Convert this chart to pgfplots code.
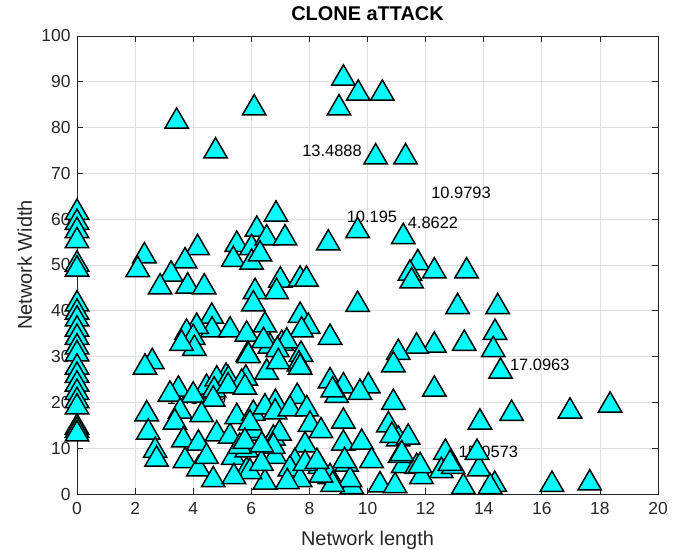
\documentclass[border=0pt]{standalone}
\usepackage{fontspec}
\setmainfont{Liberation Sans}
\usepackage{pgfplots}
\pgfplotsset{compat=1.18}
\usepackage{pgfplotstable}
\definecolor{axgray}{RGB}{38,38,38}
\definecolor{gridgray}{RGB}{223,223,223}
\definecolor{mcyan}{RGB}{0,255,255}
\pgfplotstableread{
x y
0 62.2
0 60.0
0 58.2
0 56.0
0 50.9
0 49.8
0 42.2
0 40.4
0 38.9
0 36.7
0 34.9
0 32.8
0 31.3
0 28.4
0 26.6
0 24.7
0 22.9
0 21.1
0 19.7
0 15.3
0 14.6
0 13.8
3.43 82.1
4.77 75.6
6.10 85.0
9.17 91.5
9.68 88.2
10.51 88.2
9.02 85.0
10.28 74.3
11.31 74.3
2.32 52.7
2.09 49.7
4.15 54.5
3.72 51.6
3.24 48.7
2.86 45.9
3.81 46.1
4.38 45.9
5.50 55.2
6.19 58.5
6.85 61.8
6.01 54.5
6.53 56.6
7.16 56.6
5.38 51.9
6.01 51.3
6.30 53.1
7.00 47.4
6.13 44.9
6.87 44.9
6.07 42.2
4.64 39.5
4.65 36.5
4.12 37.3
3.77 36.0
5.27 36.5
5.84 35.6
6.47 37.6
4.00 34.9
4.04 32.5
3.60 33.6
7.05 33.6
6.64 33.0
6.42 34.2
8.65 55.5
9.66 58.2
11.23 56.9
11.73 51.2
11.46 48.9
11.52 47.2
12.30 49.4
13.41 49.4
9.66 42.1
13.10 41.6
14.48 41.6
14.39 36.0
14.33 32.2
13.33 33.6
12.30 33.2
11.69 33.0
11.06 31.6
7.68 47.6
7.90 47.6
8.71 34.9
7.68 39.7
7.96 37.3
7.73 36.5
7.22 34.1
14.58 27.5
6.90 32.2
5.88 31.2
7.71 31.2
6.53 27.3
7.64 29.1
2.59 29.6
2.34 28.4
5.13 26.4
5.81 26.0
3.49 23.6
3.20 22.5
4.46 24.0
4.81 25.8
5.21 25.8
5.67 25.1
4.72 23.4
5.20 24.3
4.00 22.3
4.69 21.4
5.90 30.9
6.93 29.6
7.68 28.4
10.89 28.9
5.78 24.0
8.71 25.4
9.17 24.3
10.03 24.3
9.74 22.9
8.94 22.2
10.89 20.7
12.30 23.6
8.80 23.4
7.58 22.0
6.83 20.7
3.55 18.8
4.29 18.0
2.40 18.2
2.45 14.2
3.37 16.4
3.66 12.5
2.69 10.2
2.74 8.3
4.18 11.8
4.81 13.8
5.27 13.3
3.72 8.0
4.18 6.2
4.69 3.8
5.38 8.7
5.84 5.9
4.46 8.9
5.95 14.0
5.50 17.6
6.07 18.3
6.47 19.7
6.82 18.6
7.33 19.3
7.91 19.3
8.02 15.9
9.17 16.6
10.72 15.8
6.07 14.6
6.76 12.9
7.85 11.4
9.17 11.8
9.80 12.0
11.06 12.7
5.84 10.3
6.82 8.9
7.50 7.8
8.36 6.7
9.28 7.2
10.14 8.0
11.23 6.9
6.47 3.3
7.33 6.2
7.68 3.8
8.71 4.5
9.46 2.3
9.40 3.8
10.43 2.7
10.95 2.5
5.95 5.6
11.69 6.7
10.84 13.5
11.40 13.1
11.12 9.1
11.86 4.5
12.68 9.8
12.54 5.8
12.95 6.7
13.84 6.2
13.77 9.8
13.30 2.3
14.38 2.8
14.22 2.3
16.35 2.8
17.65 3.1
8.80 2.8
8.40 4.8
9.21 8.0
7.85 7.4
7.24 3.4
5.95 16.2
6.97 14.0
8.40 14.5
5.60 11.1
6.76 11.1
8.26 7.8
5.40 4.5
6.35 7.4
11.81 6.9
5.78 12.2
6.36 11.4
12.84 7.4
11.18 9.5
13.87 16.4
14.96 18.3
16.97 18.8
18.35 20.1
}\pts
\begin{document}
\begin{tikzpicture}
\begin{axis}[
  set layers=standard,
  scale only axis, width=581bp, height=458bp,
  xmin=0, xmax=20, ymin=0, ymax=100,
  xtick={0,2,...,20}, ytick={0,10,...,100},
  grid=major, grid style={gridgray, line width=0.8bp},
  axis line style={axgray, line width=0.8bp},
  tick style={axgray, line width=0.8bp},
  tick align=inside, major tick length=6bp,
  /pgf/number format/assume math mode=true,
  ticklabel style={font=\fontsize{17.5}{20}\selectfont, text=axgray},
  xticklabel style={yshift=-5bp},
  yticklabel style={xshift=-3bp},
  xlabel={Network length}, ylabel={Network Width},
  label style={font=\fontsize{20}{24}\selectfont, text=axgray},
  xlabel style={at={(axis description cs:0.5,-0.1004)}, anchor=center},
  ylabel style={at={(axis description cs:-0.09,0.5)}, anchor=center},
  title={CLONE aTTACK},
  title style={font=\bfseries\fontsize{20}{24}\selectfont, at={(axis description cs:0.5,1)}, anchor=center, yshift=16bp},
  clip=false,
]
\node[on layer=pre main, anchor=west, inner sep=0pt, font=\fontsize{16.5}{18}\selectfont] at (axis cs:7.75,74.9) {13.4888};
\node[on layer=pre main, anchor=west, inner sep=0pt, font=\fontsize{16.5}{18}\selectfont] at (axis cs:12.19,65.7) {10.9793};
\node[on layer=pre main, anchor=west, inner sep=0pt, font=\fontsize{16.5}{18}\selectfont] at (axis cs:9.28,60.5) {10.195};
\node[on layer=pre main, anchor=west, inner sep=0pt, font=\fontsize{16.5}{18}\selectfont] at (axis cs:11.38,59.1) {4.8622};
\node[on layer=pre main, anchor=west, inner sep=0pt, font=\fontsize{16.5}{18}\selectfont] at (axis cs:14.9,28.2) {17.0963};
\node[on layer=pre main, anchor=west, inner sep=0pt, font=\fontsize{16.5}{18}\selectfont] at (axis cs:3.09,20.7) {12.3809};
\node[on layer=pre main, anchor=west, inner sep=0pt, font=\fontsize{16.5}{18}\selectfont] at (axis cs:13.13,9.2) {15.0573};
\addplot[only marks, mark=triangle*, mark size=13.5bp,
  mark options={fill=mcyan, draw=black, line width=1.5bp, yshift=-3.4bp}]
  table[x=x, y=y] {\pts};
\coordinate (ll) at (rel axis cs:0,0);
\coordinate (ur) at (rel axis cs:1,1);
\end{axis}
\pgfresetboundingbox
\path[use as bounding box] ([shift={(-77bp,-56bp)}]ll) rectangle ([shift={(27bp,36bp)}]ur);
\end{tikzpicture}
\end{document}
